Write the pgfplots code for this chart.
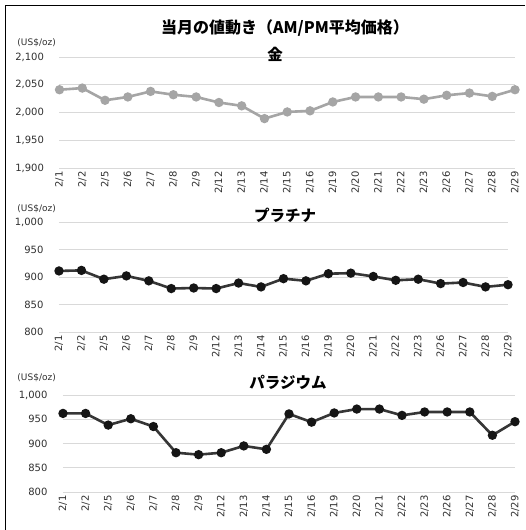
\documentclass[border=0pt]{standalone}
\usepackage{fontspec}
\setmainfont{DejaVu Sans}
\newfontfamily\cjk{Noto Sans CJK JP}
\usepackage{pgfplots}
\pgfplotsset{compat=1.18}
\definecolor{gridgray}{HTML}{D9D9D9}
\definecolor{labgray}{HTML}{303030}
\definecolor{goldline}{HTML}{A5A5A5}
\definecolor{darkline}{HTML}{363636}
\definecolor{darkmark}{HTML}{151515}
\pgfplotsset{mystyle/.style={
  scale only axis, anchor=south west,
  xmin=0, xmax=20, xtick={0,...,20},
  xticklabels={2/1,2/2,2/5,2/6,2/7,2/8,2/9,2/12,2/13,2/14,2/15,2/16,2/19,2/20,2/21,2/22,2/23,2/26,2/27,2/28,2/29},
  ymajorgrids, grid style={draw=gridgray, line width=0.8pt},
  axis line style={draw=none}, major tick length=0pt,
  tick label style={font=\fontsize{10}{12}\selectfont, text=labgray},
  xticklabel style={rotate=90, anchor=east},
  yticklabel style={xshift=-12pt},
  /pgf/number format/assume math mode=true,
  /pgf/number format/1000 sep={,},
  clip=false,
}}
\begin{document}
\begin{tikzpicture}
\useasboundingbox (0pt,0pt) rectangle (525pt,530pt);
\fill[white] (0pt,0pt) rectangle (525pt,530pt);
\draw[line width=1.2pt] (5.5pt,0pt) -- (5.5pt,524.5pt) -- (525pt,524.5pt);
\node at (285pt,502pt) {\cjk\bfseries\fontsize{16}{18}\selectfont 当月の値動き（AM/PM平均価格）};

% Gold
\begin{axis}[mystyle, at={(59.5pt,362pt)}, width=455.5pt, height=111pt,
  ymin=1900, ymax=2100, ytick={1900,1950,...,2100}]
\addplot[goldline, line width=2.6pt, mark=*, mark size=3.3pt, mark options={fill=goldline, draw=goldline}]
coordinates {(0,2041)(1,2044)(2,2022)(3,2028)(4,2038)(5,2032)(6,2028)(7,2018)(8,2012)(9,1989)(10,2001)(11,2003)(12,2019)(13,2028)(14,2028)(15,2028)(16,2024)(17,2031)(18,2035)(19,2029)(20,2041)};
\end{axis}
\node[anchor=east, inner sep=0pt, text=labgray] at (56pt,487pt) {\fontsize{9}{10}\selectfont (US\$/oz)};
\node at (275pt,476pt) {\cjk\bfseries\fontsize{15.5}{17}\selectfont 金};

% Platinum
\begin{axis}[mystyle, at={(59pt,198pt)}, width=449pt, height=110pt,
  ymin=800, ymax=1000, ytick={800,850,...,1000}]
\addplot[darkline, line width=2.6pt, mark=*, mark size=3.3pt, mark options={fill=darkmark, draw=darkmark}]
coordinates {(0,911)(1,912)(2,896)(3,902)(4,893)(5,879)(6,880)(7,879)(8,889)(9,882)(10,897)(11,893)(12,906)(13,907)(14,901)(15,894)(16,896)(17,888)(18,890)(19,882)(20,886)};
\end{axis}
\node[anchor=east, inner sep=0pt, text=labgray] at (56pt,321pt) {\fontsize{9}{10}\selectfont (US\$/oz)};
\node at (285pt,315pt) {\cjk\bfseries\fontsize{15.5}{17}\selectfont プラチナ};

% Palladium
\begin{axis}[mystyle, at={(63pt,38pt)}, width=452pt, height=97pt,
  ymin=800, ymax=1000, ytick={800,850,...,1000}]
\addplot[darkline, line width=2.6pt, mark=*, mark size=3.3pt, mark options={fill=darkmark, draw=darkmark}]
coordinates {(0,962)(1,962)(2,938)(3,951)(4,935)(5,881)(6,877)(7,881)(8,895)(9,888)(10,961)(11,944)(12,963)(13,971)(14,971)(15,958)(16,965)(17,965)(18,965)(19,917)(20,945)};
\end{axis}
\node[anchor=east, inner sep=0pt, text=labgray] at (56pt,152pt) {\fontsize{9}{10}\selectfont (US\$/oz)};
\node at (288pt,148pt) {\cjk\bfseries\fontsize{15.5}{17}\selectfont パラジウム};
\end{tikzpicture}
\end{document}
